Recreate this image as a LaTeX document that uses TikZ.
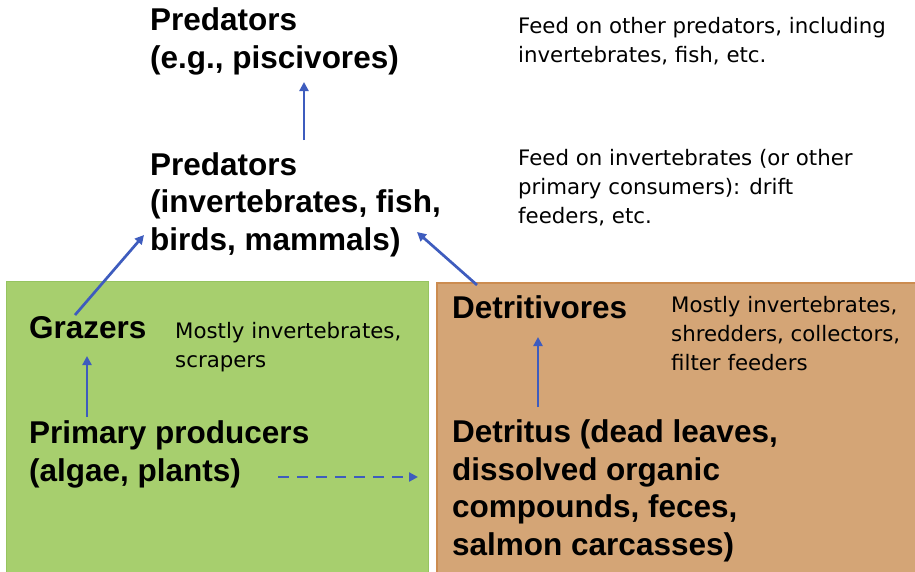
\documentclass[tikz,border=0pt]{standalone}
\usepackage{fontspec}
\setmainfont{Liberation Sans}
\newfontfamily\descfont{DejaVu Sans}
\definecolor{grazgreen}{RGB}{167,207,110}
\definecolor{grazedge}{RGB}{150,196,96}
\definecolor{detorange}{RGB}{212,165,118}
\definecolor{detedge}{RGB}{204,140,80}
\definecolor{arrowblue}{RGB}{62,92,190}
\usetikzlibrary{arrows.meta}
\tikzset{
  title/.style={anchor=base west, inner sep=0pt, align=left, font=\fontsize{31.5}{37.5}\selectfont\bfseries},
  desc/.style={anchor=base west, inner sep=0pt, align=left, font=\descfont\fontsize{21.3}{29}\selectfont},
  link/.style={draw=arrowblue, line width=2.7pt, -{Triangle[length=9pt,width=9pt]}},
  dlink/.style={link, dash pattern=on 11pt off 8pt}
}
\begin{document}
\begin{tikzpicture}[x=1pt,y=-1pt]
\useasboundingbox (0,0) rectangle (915,571);
\fill[white] (0,0) rectangle (915,571);
% boxes
\draw[fill=grazgreen, draw=grazedge, line width=1pt] (6,281) rectangle (428,580);
\draw[fill=detorange, draw=detedge, line width=1.5pt] (437,283) rectangle (925,580);
% top texts (anchor = baseline of last line)
\node[title] (top) at (150,68) {Predators\\(e.g., piscivores)};
\node[desc] (topd) at (518,62) {Feed on other predators, including\\invertebrates, fish, etc.};
\node[title] (mid) at (150,250) {Predators\\(invertebrates, fish,\\birds, mammals)};
\node[desc] (midd) at (518,223) {Feed on invertebrates (or other\\primary consumers): drift\\feeders, etc.};
% green box
\node[title] (graz) at (29,338) {Grazers};
\node[desc] (grazd) at (175,367) {Mostly invertebrates,\\scrapers};
\node[title] (prim) at (29,481) {Primary producers\\(algae, plants)};
% orange box
\node[title] (detv) at (452,318) {Detritivores};
\node[desc] (detvd) at (671,370) {Mostly invertebrates,\\shredders, collectors,\\filter feeders};
\node[title] (detr) at (452,555) {Detritus (dead leaves,\\dissolved organic\\compounds, feces,\\salmon carcasses)};
% connector end points
\coordinate (a1s) at (304,140); \coordinate (a1e) at (304,82);
\coordinate (a2s) at (75,315);  \coordinate (a2e) at (144,235);
\coordinate (a3s) at (477,285); \coordinate (a3e) at (417,232);
\coordinate (a4s) at (87,417);  \coordinate (a4e) at (87,356);
\coordinate (a5s) at (538,407); \coordinate (a5e) at (538,337);
\coordinate (a6s) at (278,477); \coordinate (a6e) at (418,477);
\draw[link] (a1s) -- (a1e);
\draw[link] (a2s) -- (a2e);
\draw[link] (a3s) -- (a3e);
\draw[link] (a4s) -- (a4e);
\draw[link] (a5s) -- (a5e);
\draw[dlink] (a6s) -- (a6e);
\end{tikzpicture}
\end{document}
